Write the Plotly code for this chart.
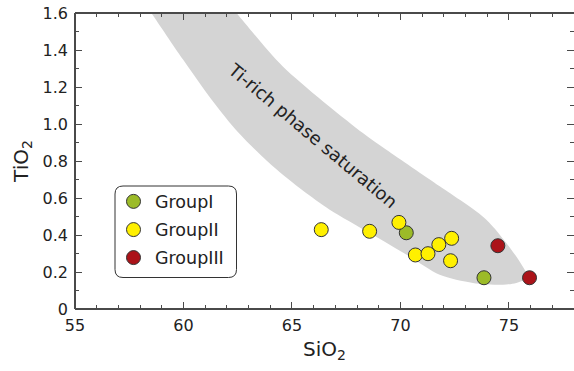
import plotly.graph_objects as go

# ---- data ----
group1_sio2 = [70.27, 73.85]
group1_tio2 = [0.412, 0.169]
group2_sio2 = [66.35, 68.58, 69.93, 70.69, 71.27, 71.77, 72.36, 72.31]
group2_tio2 = [0.429, 0.420, 0.468, 0.292, 0.299, 0.348, 0.382, 0.261]
group3_sio2 = [74.49, 75.95]
group3_tio2 = [0.342, 0.169]

# Ti-rich phase saturation field (lower edge then upper edge)
band_lower_sio2 = [57.94, 58.52, 59.98, 61.29, 62.55, 64.12, 65.5, 66.74, 68.58, 70.42, 71.81, 73.34, 74.72, 75.34, 75.95]
band_lower_tio2 = [1.70, 1.60, 1.348, 1.133, 0.951, 0.771, 0.64, 0.537, 0.411, 0.284, 0.185, 0.141, 0.131, 0.141, 0.168]
band_upper_sio2 = [75.95, 75.34, 73.96, 71.81, 69.35, 68.27, 64.59, 62.44, 61.70]
band_upper_tio2 = [0.168, 0.284, 0.483, 0.663, 0.861, 0.951, 1.31, 1.60, 1.70]

x_tickvals = [55, 60, 65, 70, 75]
y_tickvals = [0, 0.2, 0.4, 0.6, 0.8, 1.0, 1.2, 1.4, 1.6]
y_ticktext = ["0", "0.2", "0.4", "0.6", "0.8", "1.0", "1.2", "1.4", "1.6"]

FONT = "DejaVu Sans"
W, H = 574, 371
L, R, T, B = 75, 0, 13, 62
AX = "#4a4a4a"

fig = go.Figure()

fig.add_trace(go.Scatter(
    x=band_lower_sio2 + band_upper_sio2,
    y=band_lower_tio2 + band_upper_tio2,
    mode="lines", fill="toself", fillcolor="#d4d4d4",
    line=dict(width=0, shape="spline", smoothing=0.8, color="#d4d4d4"),
    showlegend=False, hoverinfo="skip"))

marker_line = dict(color="#333333", width=1)
for name, xs, ys, col, lg in [("GroupI", group1_sio2, group1_tio2, "#9cbb28", "legend"),
                              ("GroupII", group2_sio2, group2_tio2, "#fff000", "legend2"),
                              ("GroupIII", group3_sio2, group3_tio2, "#ab1319", "legend3")]:
    fig.add_trace(go.Scatter(x=xs, y=ys, mode="markers", name=name, legend=lg,
                             marker=dict(size=14, color=col, line=marker_line)))

fig.add_annotation(x=65.97, y=0.94, text="Ti-rich phase saturation", showarrow=False,
                   textangle=40, font=dict(family=FONT, size=18, color="#222222"))

# pixel coordinates -> paper
pw, ph = W - L - R, H - T - B
def px(X):
    return (X - L) / pw
def py(Y):
    return (H - B - Y) / ph

# rounded legend box
x0, y0, x1, y1, r = 115, 186, 236.5, 277.5, 8
path = (f"M {px(x0+r)},{py(y0)} L {px(x1-r)},{py(y0)} Q {px(x1)},{py(y0)} {px(x1)},{py(y0+r)} "
        f"L {px(x1)},{py(y1-r)} Q {px(x1)},{py(y1)} {px(x1-r)},{py(y1)} "
        f"L {px(x0+r)},{py(y1)} Q {px(x0)},{py(y1)} {px(x0)},{py(y1-r)} "
        f"L {px(x0)},{py(y0+r)} Q {px(x0)},{py(y0)} {px(x0+r)},{py(y0)} Z")
fig.add_shape(type="path", path=path, xref="paper", yref="paper",
              line=dict(color="#333333", width=1), fillcolor="white", layer="below")

# frame: left, bottom, top (right edge lies just outside the picture)
for (xa, ya, xb, yb) in [(0, 0, 0, 1), (0, 0, 1, 0), (0, 1, 1, 1)]:
    fig.add_shape(type="line", xref="paper", yref="paper", x0=xa, y0=ya, x1=xb, y1=yb,
                  line=dict(color=AX, width=2), layer="above")

axis_common = dict(showgrid=False, zeroline=False, showline=False,
                   mirror="ticks", ticks="inside", ticklen=7, tickwidth=1,
                   tickcolor=AX, tickfont=dict(family=FONT, size=16, color="#222222"))

fig.update_xaxes(range=[55, 78], tickvals=x_tickvals, ticklabelstandoff=5,
                 minor=dict(dtick=1, ticks="inside", ticklen=4, tickcolor=AX),
                 title=dict(text="SiO<sub>2</sub>", font=dict(family=FONT, size=20, color="#222222"), standoff=7),
                 **axis_common)
fig.update_yaxes(range=[0, 1.6], tickvals=y_tickvals, ticktext=y_ticktext, ticklabelstandoff=6,
                 minor=dict(dtick=0.1, ticks="inside", ticklen=4, tickcolor=AX),
                 title=dict(text="TiO<sub>2</sub>", font=dict(family=FONT, size=20, color="#222222"), standoff=8),
                 **axis_common)

leg_common = dict(xanchor="left", yanchor="top", bgcolor="rgba(0,0,0,0)", borderwidth=0,
                  itemwidth=33, font=dict(family=FONT, size=17.5, color="#222222"))
fig.update_layout(
    width=W, height=H, margin=dict(l=L, r=R, t=T, b=B),
    plot_bgcolor="white", paper_bgcolor="white",
    legend=dict(x=px(112), y=py(183.5), **leg_common),
    legend2=dict(x=px(112), y=py(211.7), **leg_common),
    legend3=dict(x=px(112), y=py(239.7), **leg_common),
)

fig.write_html("out.html")
